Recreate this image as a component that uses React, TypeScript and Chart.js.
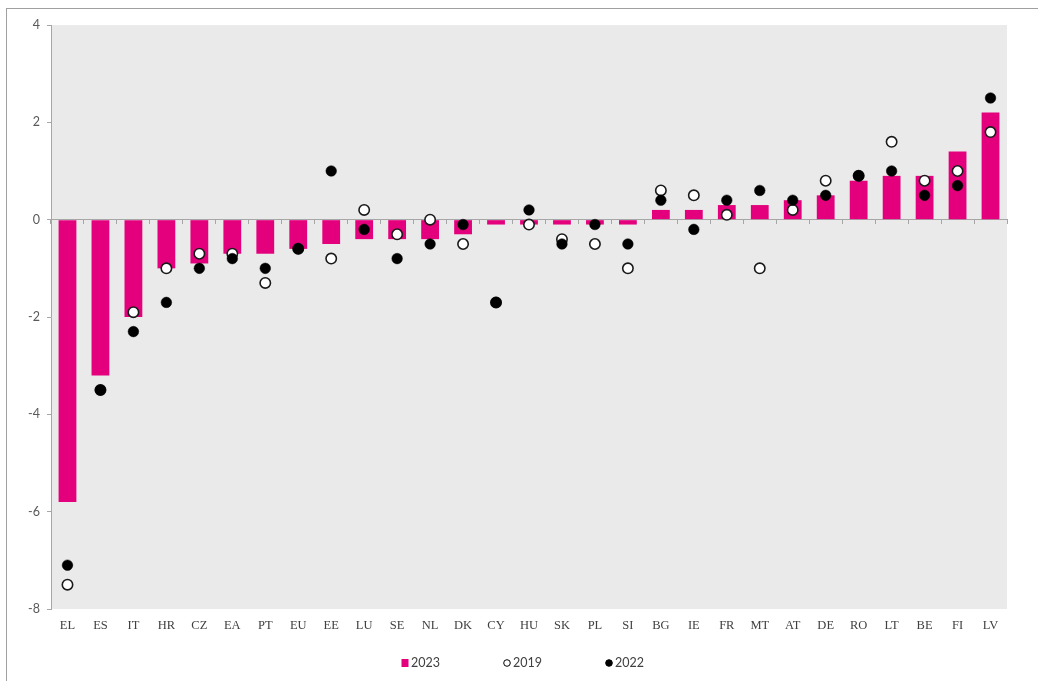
import React, { useEffect, useRef } from "react";
import { Chart, registerables } from "chart.js";

Chart.register(...registerables);

const categories = ["EL","ES","IT","HR","CZ","EA","PT","EU","EE","LU","SE","NL","DK","CY","HU","SK","PL","SI","BG","IE","FR","MT","AT","DE","RO","LT","BE","FI","LV"];
const values2023 = [-5.8,-3.2,-2.0,-1.0,-0.9,-0.7,-0.7,-0.6,-0.5,-0.4,-0.4,-0.4,-0.3,-0.1,-0.1,-0.1,-0.1,-0.1,0.2,0.2,0.3,0.3,0.4,0.5,0.8,0.9,0.9,1.4,2.2];
const values2019 = [-7.5,-3.5,-1.9,-1.0,-0.7,-0.7,-1.3,-0.6,-0.8,0.2,-0.3,0.0,-0.5,-1.7,-0.1,-0.4,-0.5,-1.0,0.6,0.5,0.1,-1.0,0.2,0.8,0.9,1.6,0.8,1.0,1.8];
const values2022 = [-7.1,-3.5,-2.3,-1.7,-1.0,-0.8,-1.0,-0.6,1.0,-0.2,-0.8,-0.5,-0.1,-1.7,0.2,-0.5,-0.1,-0.5,0.4,-0.2,0.4,0.6,0.4,0.5,0.9,1.0,0.5,0.7,2.5];
const yTicks = [-8, -6, -4, -2, 0, 2, 4];

const PINK = "#E4007C";
const AXIS_GRAY = "#a6a6a6";

const plotBg = {
  id: "plotBg",
  beforeDraw(chart: any) {
    const { ctx, chartArea } = chart;
    ctx.save();
    ctx.fillStyle = "#EAEAEA";
    ctx.fillRect(chartArea.left, chartArea.top, chartArea.right - chartArea.left, chartArea.bottom - chartArea.top);
    ctx.restore();
  },
};

const customLegend = {
  id: "customLegend",
  afterDraw(chart: any) {
    const { ctx } = chart;
    const ds = chart.data.datasets;
    const y = 663;
    const pitch = 102;
    const startX = chart.width / 2 - 114;
    ctx.save();
    ctx.font = "12.5px Lato, 'Open Sans', sans-serif";
    ctx.textBaseline = "middle";
    ctx.textAlign = "left";
    ds.forEach((d: any, i: number) => {
      const x = startX + i * pitch;
      if (d.type === "bar") {
        ctx.fillStyle = d.backgroundColor;
        ctx.fillRect(x - 3.5, y - 4, 7, 8);
      } else {
        ctx.beginPath();
        ctx.arc(x, y, 3.3, 0, Math.PI * 2);
        ctx.fillStyle = d.pointBackgroundColor;
        ctx.fill();
        ctx.lineWidth = 1;
        ctx.strokeStyle = "#000";
        ctx.stroke();
      }
      ctx.fillStyle = "#404040";
      ctx.fillText(d.label, x + 6, y);
    });
    ctx.restore();
  },
};

export default function App() {
  const ref = useRef<HTMLCanvasElement>(null);
  useEffect(() => {
    if (!ref.current) return;
    const chart = new Chart(ref.current, {
      type: "bar",
      data: {
        labels: categories,
        datasets: [
          {
            type: "bar",
            label: "2023",
            data: values2023,
            backgroundColor: PINK,
            borderWidth: 0,
            categoryPercentage: 1,
            barPercentage: 0.54,
            order: 3,
          } as any,
          {
            type: "line",
            label: "2019",
            data: values2019,
            showLine: false,
            pointRadius: 5.2,
            pointBorderWidth: 1.6,
            pointBackgroundColor: "#ffffff",
            pointBorderColor: "#1a1a1a",
            order: 2,
          },
          {
            type: "line",
            label: "2022",
            data: values2022,
            showLine: false,
            pointRadius: 5.3,
            pointBorderWidth: 0.5,
            pointBackgroundColor: "#000000",
            pointBorderColor: "#000000",
            order: 1,
          },
        ],
      },
      options: {
        animation: false,
        responsive: false,
        devicePixelRatio: 1,
        layout: { padding: { top: 25, right: 31, bottom: 42, left: 0 } },
        plugins: { legend: { display: false }, tooltip: { enabled: false } },
        scales: {
          x: {
            type: "category",
            position: "bottom",
            offset: true,
            grid: { display: false },
            border: { display: false },
            ticks: {
              color: "#404040",
              font: { family: "'Liberation Serif', 'DejaVu Serif', serif", size: 12.5 },
              padding: 1,
              maxRotation: 0,
              autoSkip: false,
            },
            afterFit: (s: any) => { s.height = 30; },
          },
          x2: {
            type: "category",
            axis: "x",
            position: { y: 0 },
            offset: true,
            grid: { display: true, drawOnChartArea: false, offset: true, tickLength: 4, color: AXIS_GRAY, lineWidth: 1 },
            border: { display: true, color: AXIS_GRAY, width: 1 },
            ticks: { display: false },
          } as any,
          y: {
            min: -8,
            max: 4,
            afterBuildTicks: (s: any) => { s.ticks = yTicks.map((v) => ({ value: v })); },
            grid: { display: true, drawOnChartArea: false, tickLength: 4, color: AXIS_GRAY },
            border: { display: true, color: AXIS_GRAY, width: 1 },
            ticks: {
              color: "#595959",
              font: { family: "Lato, 'Open Sans', sans-serif", size: 12.5 },
              padding: 7,
            },
            afterFit: (s: any) => { s.width = 51; },
          },
        },
      },
      plugins: [plotBg, customLegend],
    });
    return () => chart.destroy();
  }, []);

  return (
    <div style={{ position: "absolute", left: 0, top: 0, width: 1038, height: 681, overflow: "hidden", background: "#fff" }}>
      <div style={{ position: "absolute", left: 6, top: 8, width: 1040, height: 680, borderTop: "1.5px solid #a0a0a0", borderLeft: "1.5px solid #a0a0a0" }} />
      <canvas ref={ref} width={1038} height={681} style={{ position: "absolute", left: 0, top: 0 }} />
    </div>
  );
}
